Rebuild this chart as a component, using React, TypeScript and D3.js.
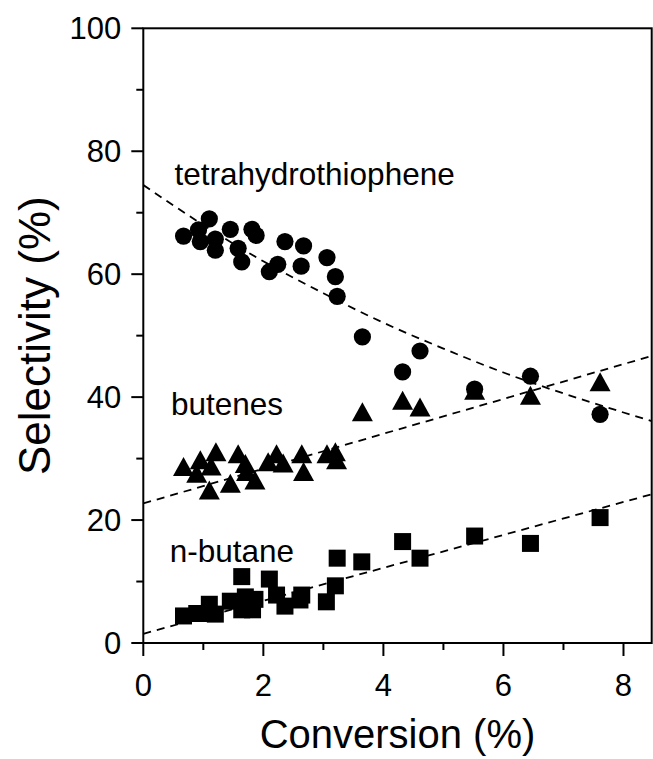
import React from "react";
import * as d3 from "d3";

const W = 653;
const H = 759;

// Tetrahydrothiophene (circles)
const thtX = [0.67, 0.92, 1.1, 0.95, 1.2, 1.2, 1.45, 1.58, 1.64, 1.81, 1.88, 2.1, 2.24, 2.36, 2.67, 2.63, 3.06, 3.2, 3.23, 3.65, 4.32, 4.61, 5.52, 6.45, 7.61];
const thtY = [66.2, 67.2, 69.0, 65.3, 65.7, 63.9, 67.3, 64.2, 62.0, 67.3, 66.3, 60.4, 61.6, 65.3, 64.6, 61.3, 62.7, 59.6, 56.4, 49.8, 44.1, 47.5, 41.3, 43.4, 37.2];

// Butenes (triangles)
const butX = [0.67, 0.89, 0.95, 1.1, 1.13, 1.21, 1.45, 1.58, 1.7, 1.72, 1.86, 2.08, 2.22, 2.33, 2.64, 2.67, 3.06, 3.2, 3.22, 3.65, 4.32, 4.61, 5.52, 6.45, 7.61];
const butY = [28.7, 27.6, 29.8, 24.9, 28.8, 31.1, 26.0, 30.8, 29.2, 27.9, 26.5, 29.5, 30.8, 29.3, 30.8, 27.9, 30.8, 31.1, 29.8, 37.6, 39.5, 38.4, 41.1, 40.3, 42.5];

// n-butane (squares)
const nbX = [0.67, 0.89, 1.05, 1.1, 1.2, 1.45, 1.64, 1.64, 1.7, 1.82, 1.86, 2.1, 2.22, 2.36, 2.61, 2.64, 3.05, 3.2, 3.23, 3.64, 4.32, 4.61, 5.52, 6.45, 7.61];
const nbY = [4.4, 4.8, 4.8, 6.3, 4.7, 6.8, 10.8, 5.4, 7.5, 5.4, 7.1, 10.4, 7.8, 6.0, 7.0, 7.8, 6.7, 9.3, 13.8, 13.2, 16.5, 13.8, 17.4, 16.2, 20.4];

// dashed trend lines
const thtFitX = [0, 1, 2, 3, 4, 5, 6, 7, 8, 8.47];
const thtFitY = [74.5, 68.0, 62.1, 56.9, 52.1, 47.9, 44.0, 40.6, 37.5, 36.1];
const butFitX = [0, 8.47];
const butFitY = [22.7, 46.7];
const nbFitX = [0, 8.47];
const nbFitY = [1.5, 24.2];

const xMajor = [0, 2, 4, 6, 8];
const xMinor = [1, 3, 5, 7];
const yMajor = [0, 20, 40, 60, 80, 100];
const yMinor = [10, 30, 50, 70, 90];

const labels = [
  { text: "tetrahydrothiophene", x: 0.52, y: 74.5 },
  { text: "butenes", x: 0.46, y: 37.1 },
  { text: "n-butane", x: 0.44, y: 13.2 },
];

const FONT = "'Liberation Sans', Arial, Helvetica, sans-serif";

export default function App() {
  const left = 143.3, right = 651.7, top = 28.3, bottom = 643;
  const x = d3.scaleLinear().domain([0, 8.47]).range([left, right]);
  const y = d3.scaleLinear().domain([0, 100]).range([bottom, top]);

  const line = d3.line<[number, number]>().x(d => x(d[0])).y(d => y(d[1]));
  const curve = d3.line<[number, number]>().x(d => x(d[0])).y(d => y(d[1])).curve(d3.curveMonotoneX);

  const circ = d3.symbol().type(d3.symbolCircle).size(Math.PI * 8.6 * 8.6)();
  const sq = d3.symbol().type(d3.symbolSquare).size(17 * 17)();
  const tw = 21, th = 19;
  const tri = `M0,${-th / 2}L${tw / 2},${th / 2}L${-tw / 2},${th / 2}Z`;

  const fits = [
    { xs: thtFitX, ys: thtFitY, gen: curve },
    { xs: butFitX, ys: butFitY, gen: line },
    { xs: nbFitX, ys: nbFitY, gen: line },
  ];

  return (
    <svg width={W} height={H} style={{ position: "absolute", left: 0, top: 0, background: "#fff" }} fontFamily={FONT}>
      <defs>
        <clipPath id="plotclip">
          <rect x={left} y={top} width={right - left} height={bottom - top} />
        </clipPath>
      </defs>
      {/* fits */}
      <g clipPath="url(#plotclip)">
        {fits.map((f, i) => (
          <path key={i} d={f.gen(f.xs.map((v, j) => [v, f.ys[j]] as [number, number])) || ""} fill="none" stroke="#000" strokeWidth={1.8} strokeDasharray="8,6" />
        ))}
      </g>
      {/* markers */}
      {nbX.map((v, i) => (
        <path key={"s" + i} d={sq || ""} transform={`translate(${x(v)},${y(nbY[i])})`} fill="#000" />
      ))}
      {butX.map((v, i) => (
        <path key={"t" + i} d={tri} transform={`translate(${x(v)},${y(butY[i])})`} fill="#000" />
      ))}
      {thtX.map((v, i) => (
        <path key={"c" + i} d={circ || ""} transform={`translate(${x(v)},${y(thtY[i])})`} fill="#000" />
      ))}
      {/* frame */}
      <rect x={left} y={top} width={right - left} height={bottom - top} fill="none" stroke="#000" strokeWidth={2} />
      {/* x ticks */}
      {xMajor.map(v => (
        <g key={"xm" + v}>
          <line x1={x(v)} x2={x(v)} y1={bottom} y2={bottom + 13} stroke="#000" strokeWidth={2} />
          <text x={x(v)} y={bottom + 53} fontSize={31} textAnchor="middle">{v}</text>
        </g>
      ))}
      {xMinor.map(v => (
        <line key={"xn" + v} x1={x(v)} x2={x(v)} y1={bottom} y2={bottom + 7} stroke="#000" strokeWidth={2} />
      ))}
      {/* y ticks */}
      {yMajor.map(v => (
        <g key={"ym" + v}>
          <line x1={left - 12} x2={left} y1={y(v)} y2={y(v)} stroke="#000" strokeWidth={2} />
          <text x={left - 22} y={y(v) + 11} fontSize={31} textAnchor="end">{v}</text>
        </g>
      ))}
      {yMinor.map(v => (
        <line key={"yn" + v} x1={left - 7} x2={left} y1={y(v)} y2={y(v)} stroke="#000" strokeWidth={2} />
      ))}
      {/* annotations */}
      {labels.map(l => (
        <text key={l.text} x={x(l.x)} y={y(l.y)} fontSize={31.5}>{l.text}</text>
      ))}
      {/* axis titles */}
      <text x={(left + right) / 2} y={748} fontSize={40} textAnchor="middle">Conversion (%)</text>
      <text transform={`translate(50,${(top + bottom) / 2}) rotate(-90)`} fontSize={44} textAnchor="middle">Selectivity (%)</text>
    </svg>
  );
}
